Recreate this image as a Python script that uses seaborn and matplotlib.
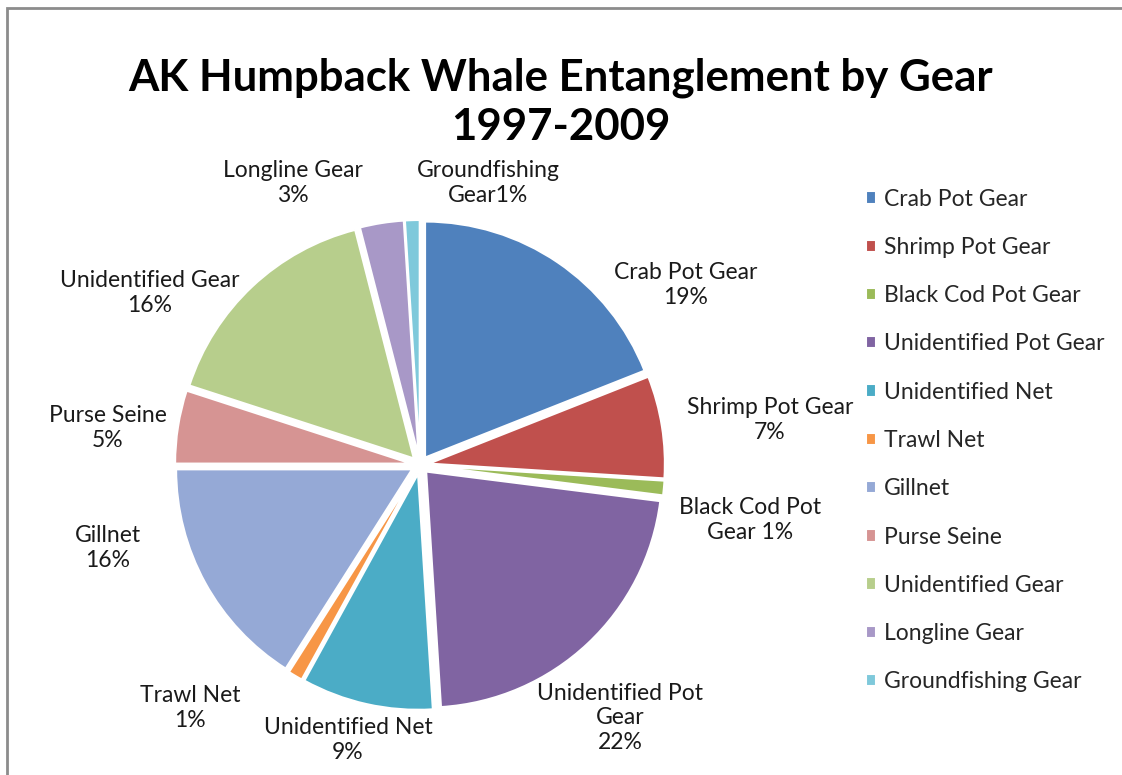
import matplotlib
matplotlib.use('Agg')
from matplotlib import pyplot as plt
from matplotlib.patches import Rectangle
import seaborn as sns


W, H = 1122, 775

gears = ['Crab Pot Gear', 'Shrimp Pot Gear', 'Black Cod Pot Gear', 'Unidentified Pot Gear',
         'Unidentified Net', 'Trawl Net', 'Gillnet', 'Purse Seine', 'Unidentified Gear',
         'Longline Gear', 'Groundfishing Gear']
percents = [19, 7, 1, 22, 9, 1, 16, 5, 16, 3, 1]
slice_labels = ['Crab Pot Gear\n19%', 'Shrimp Pot Gear\n7%', 'Black Cod Pot\nGear 1%',
                'Unidentified Pot\nGear\n22%', 'Unidentified Net\n9%', 'Trawl Net\n1%',
                'Gillnet\n16%', 'Purse Seine\n5%', 'Unidentified Gear\n16%',
                'Longline Gear\n3%', 'Groundfishing\nGear1%']
colors = ['#4F81BD', '#C0504D', '#9BBB59', '#8064A2', '#4BACC6', '#F79646',
          '#95A9D6', '#D69493', '#B7CE8C', '#A898C7', '#7FC9DB']

# label text centres, in image pixels
label_xy = [(686, 285), (770, 420), (750, 520), (620, 718), (348, 740), (190, 708),
            (108, 548), (108, 428), (150, 293), (293, 183), (488, 183)]

sns.set_theme(style='white')
plt.rcParams['font.family'] = ['Lato', 'DejaVu Sans']

fig = plt.figure(figsize=(W / 100, H / 100), dpi=100)
ax = fig.add_axes([0, 0, 1, 1])

palette = sns.color_palette(colors)
wedges, _ = ax.pie(percents, colors=palette, startangle=90, counterclock=False,
                   center=(420, H - 465), radius=236, explode=[9] * len(percents),
                   wedgeprops=dict(linewidth=1.5, edgecolor='white'))
# pie() resets the limits, so put the pixel frame back afterwards
ax.set_xlim(0, W)
ax.set_ylim(0, H)
ax.set_aspect('equal')
ax.axis('off')

for text, (x, y) in zip(slice_labels, label_xy):
    ax.text(x, H - y, text, ha='center', va='center', fontsize=16.5,
            color='#1a1a1a', linespacing=1.2)

fig.text(0.5, 1 - 102 / H, 'AK Humpback Whale Entanglement by Gear\n1997-2009',
         ha='center', va='center', fontsize=31.5, fontweight='bold', linespacing=1.27,
         color='black')

ax.legend(wedges, gears, loc='upper left', bbox_to_anchor=(845 / W, 1 - 168 / H),
          bbox_transform=fig.transFigure, frameon=False, fontsize=16.5,
          handlelength=0.45, handleheight=0.45, handletextpad=0.35, labelspacing=1.19)

fig.add_artist(Rectangle((7 / W, -0.02), 1.1, 1 - 8 / H + 0.02, transform=fig.transFigure,
                         fill=False, edgecolor='#8c8c8c', linewidth=2))

fig.savefig('out.png', dpi=100)
